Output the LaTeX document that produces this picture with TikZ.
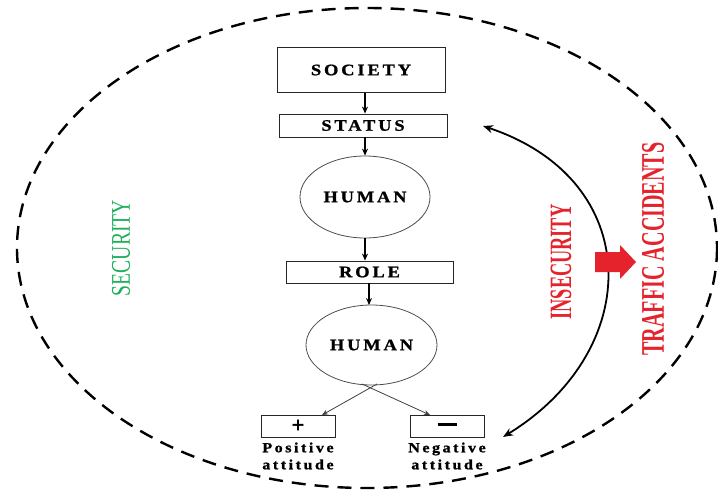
\documentclass[tikz,border=0pt]{standalone}
\usepackage{fontspec}
\setmainfont{Liberation Serif}
\newfontfamily\spacedfont[LetterSpace=18,FakeStretch=1.15,BoldFeatures={FakeBold=1.2}]{Liberation Serif}
\newfontfamily\heavyfont[BoldFeatures={FakeBold=2}]{Liberation Serif}
\usetikzlibrary{arrows.meta,shapes.geometric}
\definecolor{secgreen}{RGB}{30,175,90}
\definecolor{insred}{RGB}{228,35,45}
\begin{document}
\begin{tikzpicture}[x=1pt,y=-1pt,
  boxlbl/.style={font=\spacedfont\bfseries\fontsize{16}{16}\selectfont},
  rectbox/.style={draw=black!85,line width=0.9pt,boxlbl,inner sep=0pt},
  ovalbox/.style={draw=black!70,line width=0.8pt,ellipse,boxlbl,inner sep=0pt},
  flow/.style={-{Stealth[length=7pt,width=6pt]},line width=1.3pt},
  thin/.style={-{Stealth[length=6pt,width=5pt]},line width=0.8pt,black!75},
  attlbl/.style={font=\spacedfont\bfseries\fontsize{14}{17}\selectfont,align=center,inner sep=0pt},
  sidetext/.style={rotate=90,inner sep=0pt}
]
\useasboundingbox (0,0) rectangle (718,495);
% outer dashed ellipse
\draw[line width=2.4pt,dash pattern=on 14pt off 9pt] (367,248) ellipse [x radius=350,y radius=240];

% flow nodes
\node[rectbox,minimum width=168pt,minimum height=45pt] (soc) at (361,70) {SOCIETY};
\node[rectbox,minimum width=168pt,minimum height=23pt] (stat) at (363,125.5) {STATUS};
\node[ovalbox,minimum width=130pt,minimum height=82pt] (h1) at (365,197) {HUMAN};
\node[rectbox,minimum width=167pt,minimum height=22pt] (role) at (369.5,272) {ROLE};
\node[ovalbox,minimum width=131pt,minimum height=80pt] (h2) at (371.5,345) {HUMAN};
\node[rectbox,minimum width=74pt,minimum height=22pt,font=\heavyfont\bfseries\fontsize{22}{22}\selectfont] (pos) at (298,426) {+};
\node[rectbox,minimum width=74pt,minimum height=22pt] (neg) at (447,426) {\rule[3pt]{19pt}{3.5pt}};
\node[attlbl] (posl) at (298,456) {Positive\\attitude};
\node[attlbl] (negl) at (447,456) {Negative\\attitude};

\draw[flow] (soc.south -| 365,0) -- (stat.north -| 365,0);
\draw[flow] (stat.south -| 365,0) -- (h1.north);
\draw[flow] (h1.south) -- (role.north -| h1.south);
\draw[flow] (role.south -| 369,0) -- (369,305);
\coordinate (hl) at (377,384);
\coordinate (hr) at (362,384);
\draw[thin] (hl) -- (322,415);
\draw[thin] (hr) -- (430,415);

% side texts
\node[sidetext,text=secgreen] (sec) at (121,248) {\scalebox{0.73}[1]{\fontsize{27}{27}\selectfont SECURITY}};
\node[sidetext,text=insred] (ins) at (561,262) {\scalebox{0.59}[1]{\fontsize{31}{31}\selectfont\bfseries INSECURITY}};
\node[sidetext,text=insred] (traf) at (653,249) {\scalebox{0.61}[1]{\fontsize{33}{33}\selectfont\bfseries TRAFFIC ACCIDENTS}};

% curved double arrow
\coordinate (ctop) at (483,126);
\coordinate (cbot) at (503,437);
\draw[{Stealth[length=10pt,width=8pt]}-{Stealth[length=10pt,width=8pt]},line width=1.8pt]
  (ctop) .. controls (645,180) and (645,350) .. (cbot);

% red block arrow
\fill[insred] (595,252) -- (620,252) -- (620,245) -- (636,262) -- (620,279) -- (620,272) -- (595,272) -- cycle;
\end{tikzpicture}
\end{document}
